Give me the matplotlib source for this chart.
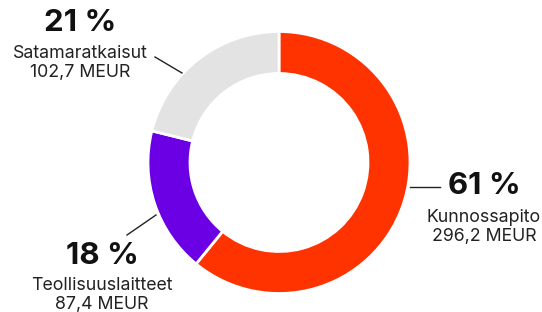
import matplotlib
matplotlib.use("Agg")
import matplotlib.pyplot as plt

categories = ["Kunnossapito", "Teollisuuslaitteet", "Satamaratkaisut"]
values = [296.2, 87.4, 102.7]
percent_labels = ["61 %", "18 %", "21 %"]
value_labels = ["296,2 MEUR", "87,4 MEUR", "102,7 MEUR"]
colors = ["#FF3300", "#6A00E3", "#E3E3E3"]

W, H = 542, 312
fig = plt.figure(figsize=(W / 100, H / 100), dpi=100)
ax = fig.add_axes([0, 0, 1, 1])
ax.set_xlim(0, W)
ax.set_ylim(0, H)
ax.set_aspect("equal")
ax.axis("off")

cx, cy, R = 279, H - 162.5, 131
ax.pie(values, colors=colors, startangle=90, counterclock=False,
       center=(cx, cy), radius=R,
       wedgeprops=dict(width=42, edgecolor="white", linewidth=2))
ax.set_xlim(0, W)
ax.set_ylim(0, H)

fam = ["Inter", "DejaVu Sans"]
tc = "#111111"

def label(x, y1, y2, y3, i):
    ax.text(x, H - y1, percent_labels[i], ha="center", va="center",
            fontsize=22.5, fontweight="bold", family=fam, color=tc)
    ax.text(x, H - y2, categories[i], ha="center", va="center",
            fontsize=12.8, family=fam, color="#222222")
    ax.text(x, H - y3, value_labels[i], ha="center", va="center",
            fontsize=12.8, family=fam, color="#222222")

label(484, 186, 217, 236, 0)
label(102, 256, 285, 304, 1)
label(80, 23, 53, 72, 2)

lc = "#222222"
ax.plot([410, 440], [H - 187, H - 187], color=lc, lw=1)
ax.plot([127, 156], [H - 235, H - 215], color=lc, lw=1)
ax.plot([155, 182], [H - 57, H - 73], color=lc, lw=1)

fig.savefig("out.png", dpi=100)
